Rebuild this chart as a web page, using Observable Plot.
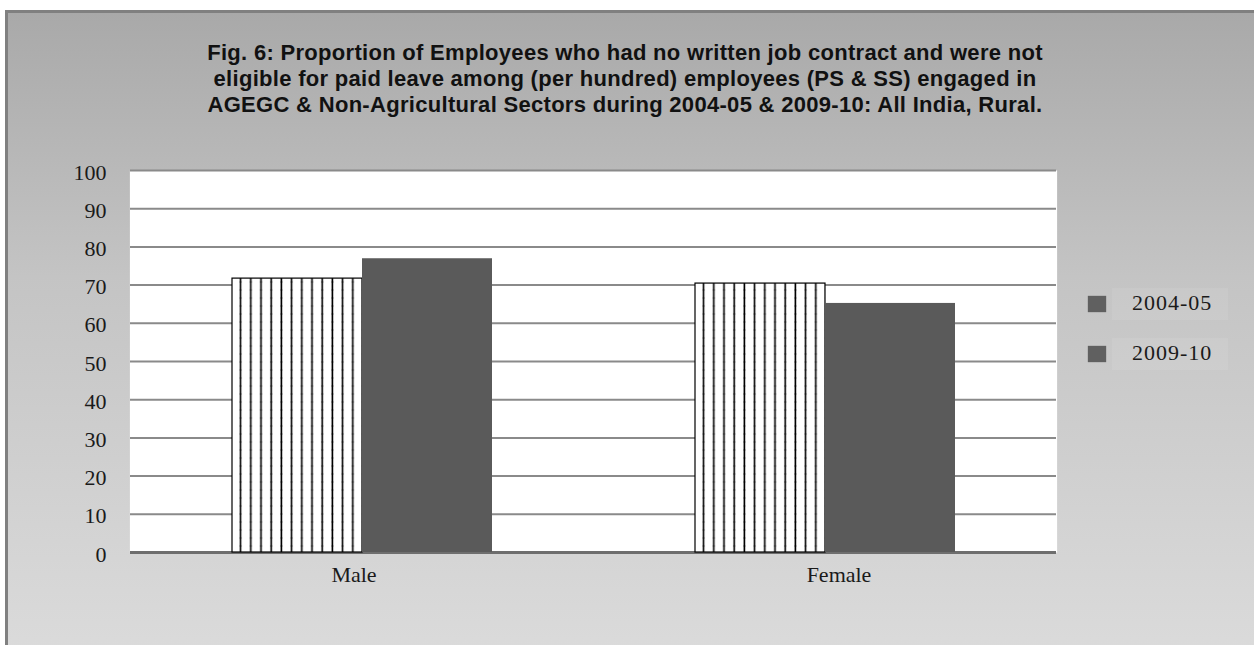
<!DOCTYPE html>
<html>
<head>
<meta charset="utf-8">
<script src="https://cdn.jsdelivr.net/npm/d3@7"></script>
<script src="https://cdn.jsdelivr.net/npm/@observablehq/plot@0.6"></script>
<style>
  html, body { margin: 0; padding: 0; width: 1254px; height: 645px; overflow: hidden; background: #fff; }
  #frame { position: absolute; left: 5px; top: 10px; width: 1270px; height: 660px;
    border-left: 3px solid #808080; border-top: 3px solid #808080;
    background: linear-gradient(to bottom, #a9a9a9 0%, #c4c4c4 40%, #dcdcdc 100%); }
  #title { position: absolute; left: 0; top: 40px; width: 1250px; text-align: center;
    font-family: "Liberation Sans", Arial, sans-serif; font-weight: bold; font-size: 22px; line-height: 26px;
    letter-spacing: 0.3px; color: #111; }
  #chart { position: absolute; left: 0; top: 150px; }
  .leg { position: absolute; left: 1088px; font-family: "Liberation Serif", serif; font-size: 22px; letter-spacing: 1px; color: #1a1a1a; }
  .leg .sw { position: absolute; left: 0; width: 18px; height: 16px; background: #606060; box-shadow: 0 0 1px #606060; }
  .leg .tx { position: absolute; left: 24px; top: -8px; width: 116px; height: 32px; background: rgba(255,255,255,0.08); }
  .leg .tx span { position: absolute; left: 20px; top: 2px; white-space: nowrap; }
</style>
</head>
<body>
<div id="frame"></div>
<div id="title">Fig. 6: Proportion of Employees who had no written job contract and were not<br>eligible for paid leave among (per hundred) employees (PS &amp; SS) engaged in<br>AGEGC &amp; Non-Agricultural Sectors during 2004-05 &amp; 2009-10: All India, Rural.</div>
<div id="chart"></div>
<div class="leg" style="top:296px"><div class="sw"></div><div class="tx"><span>2004-05</span></div></div>
<div class="leg" style="top:346px"><div class="sw"></div><div class="tx"><span>2009-10</span></div></div>
<script>
const categories = ["Male", "Female"];
const years = ["2004-05", "2009-10"];
const values2004 = [71.7, 70.4];
const values2009 = [76.9, 65.2];
const yTicks = [0, 10, 20, 30, 40, 50, 60, 70, 80, 90, 100];

const rows2004 = categories.map((c, i) => ({cat: c, year: years[0], value: values2004[i]}));
const rows2009 = categories.map((c, i) => ({cat: c, year: years[1], value: values2009[i]}));

const plot = Plot.plot({
  width: 1254,
  height: 450,
  marginLeft: 129,
  marginRight: 198,
  marginTop: 20,
  marginBottom: 48,
  style: {background: "transparent", fontFamily: "Liberation Serif, serif", fontSize: "22px", color: "#1a1a1a"},
  fx: {domain: categories, padding: 0, label: null, axis: null},
  x: {domain: years, axis: null, paddingInner: 0, paddingOuter: 0.77},
  y: {domain: [0, 100], label: null, axis: null},
  marks: [
    Plot.frame({fill: "white", stroke: "none", insetLeft: -0.6, insetRight: -0.6}),
    Plot.ruleY(yTicks.filter(d => d > 0), {stroke: "#8a8a8a", strokeWidth: 2}),
    Plot.ruleY([0], {stroke: "#6e6e6e", strokeWidth: 3}),
    Plot.barY(rows2004, {fx: "cat", x: "year", y: "value", fill: "url(#hatch)", stroke: "black", strokeWidth: 1.2, inset: 0}),
    Plot.barY(rows2009, {fx: "cat", x: "year", y: "value", fill: "#5a5a5a", inset: 0}),
    Plot.axisY({ticks: yTicks, label: null, tickSize: 0, tickPadding: 24, dy: 2}),
    Plot.axisFx({ticks: [categories[0]], anchor: "bottom", label: null, tickSize: 0, tickPadding: 14, dx: -8}),
    Plot.axisFx({ticks: [categories[1]], anchor: "bottom", label: null, tickSize: 0, tickPadding: 14, dx: 14})
  ]
});

const svg = plot;
const ns = "http://www.w3.org/2000/svg";
const defs = document.createElementNS(ns, "defs");
defs.innerHTML = `<pattern id="hatch" patternUnits="userSpaceOnUse" width="10.2" height="8">
  <rect width="10.2" height="8" fill="white"/>
  <line x1="5" y1="0" x2="5" y2="8" stroke="black" stroke-width="1.6"/>
  <line x1="4" y1="4" x2="6" y2="4" stroke="black" stroke-width="0.6"/>
</pattern>`;
svg.insertBefore(defs, svg.firstChild);
document.getElementById("chart").appendChild(plot);
</script>
</body>
</html>
